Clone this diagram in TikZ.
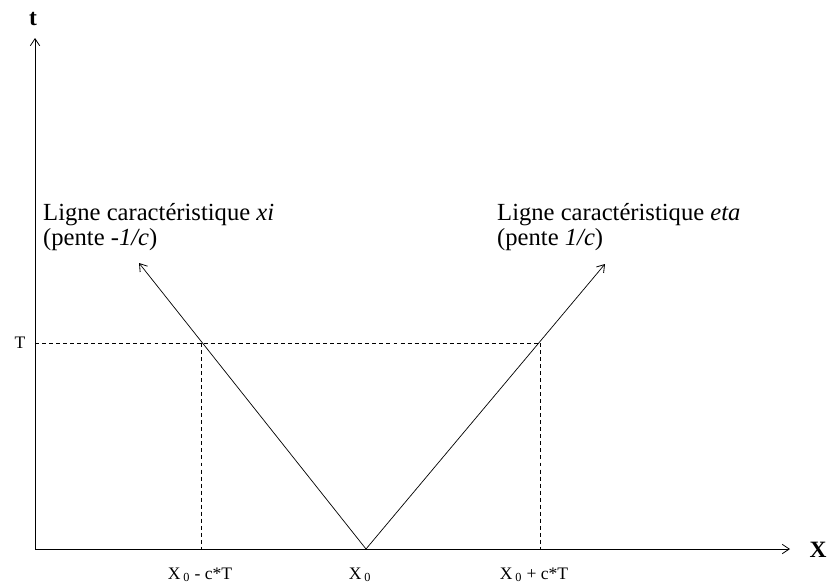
\documentclass[tikz,border=0pt]{standalone}
\usepackage{fontspec}
\setmainfont{Liberation Serif}
\usetikzlibrary{positioning,arrows.meta}

\begin{document}
\begin{tikzpicture}[
      x=0.03cm, y=-0.03cm,
      every node/.style={font=\fontsize{21}{21.5}\selectfont, inner sep=0pt},
      tip/.style={-{Straight Barb[length=6pt,width=8pt,line width=0.7pt]}},
      axis/.style={tip, line width=0.75pt, draw=black},
      charline/.style={tip, line width=0.6pt, draw=black},
      guide/.style={dash pattern=on 3.4pt off 2.6pt, line width=0.6pt, draw=black},
      ticklabel/.style={font=\fontsize{15}{17}\selectfont},
      axislabel/.style={font=\fontsize{20}{22}\selectfont\bfseries}
    ]
      \useasboundingbox (0,0) rectangle (838,588);
      % points of the picture
      \coordinate (o) at (35,549);
      \coordinate (ttop) at (35,38);
      \coordinate (xend) at (790,549);
      \coordinate (x0) at (366,549);
      \coordinate (tl) at (35,343);
      \coordinate (pl) at (201,343);
      \coordinate (pr) at (540,343);
      \coordinate (ql) at (201,549);
      \coordinate (qr) at (540,549);
      \coordinate (al) at (139,263);
      \coordinate (ar) at (605,264);
      % axes
      \draw[axis] (o) -- (ttop);
      \draw[axis] (o) -- (xend);
      \node[axislabel] (tname) at (33,19) {t};
      \node[axislabel] (xname) at (818,550) {X};
      % dashed guides
      \draw[guide] (tl) -- (pr);
      \draw[guide] (pl) -- (ql);
      \draw[guide] (pr) -- (qr);
      % characteristic lines
      \draw[charline] (x0) -- (al);
      \draw[charline] (x0) -- (ar);
      % labels
      \node[ticklabel] (tval) at (20,343) {T};
      \node[ticklabel] (xl) at (200,575) {X\,\textsubscript{0} - c*T};
      \node[ticklabel] (xm) at (360,575) {X\,\textsubscript{0}};
      \node[ticklabel] (xr) at (534,575) {X\,\textsubscript{0} + c*T};
      \node[anchor=base west] (xi) at (43,220) {Ligne caractéristique \textit{xi}};
      \node[anchor=base west] (xislope) at (43,245) {(pente \textit{-1/c})};
      \node[anchor=base west] (eta) at (497,220) {Ligne caractéristique \textit{eta}};
      \node[anchor=base west] (etaslope) at (497,245) {(pente \textit{1/c})};
    \end{tikzpicture}
\end{document}
